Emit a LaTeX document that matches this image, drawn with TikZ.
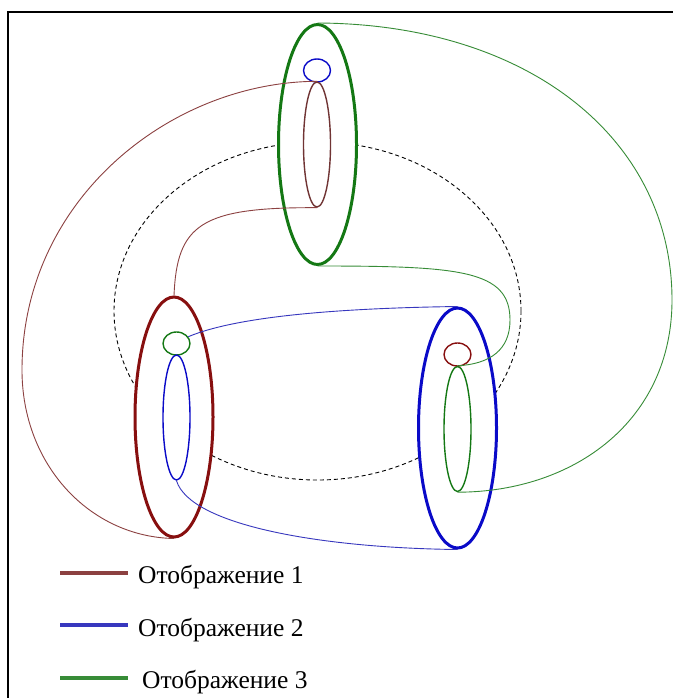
\documentclass[tikz,border=0pt]{standalone}
\usepackage{fontspec}
\setmainfont{Liberation Serif}
\usetikzlibrary{shapes.geometric}
\definecolor{ringred}{RGB}{135,15,15}
\definecolor{ringblue}{RGB}{10,10,200}
\definecolor{ringgreen}{RGB}{20,120,20}
\definecolor{thinred}{RGB}{140,65,65}
\definecolor{thinblue}{RGB}{55,55,190}
\definecolor{thingreen}{RGB}{55,140,55}
\tikzset{
  bigring/.style={ellipse, draw, fill=white, inner sep=0pt, minimum width=78pt, minimum height=240pt, line width=3pt},
  innerring/.style={ellipse, draw, inner sep=0pt, minimum width=27pt, minimum height=125pt, line width=1.4pt},
  smallring/.style={ellipse, draw, inner sep=0pt, minimum width=27pt, minimum height=23pt, line width=1.4pt},
  link/.style={line width=0.9pt},
  legline/.style={line width=3.2pt},
  legtext/.style={anchor=base west, inner sep=0pt, font=\fontsize{25.5}{30}\selectfont}
}
\begin{document}
\begin{tikzpicture}[x=1pt,y=-1pt]
\useasboundingbox (0,0) rectangle (673,698);
\fill[white] (0,0) rectangle (673,698);
% frame
\draw[line width=1.5pt] (8,698) -- (8,12) -- (673,12);
% dashed orbit
\node[ellipse, draw, dashed, dash pattern=on 4pt off 3pt, line width=0.9pt, inner sep=0pt, minimum width=407pt, minimum height=338pt] (orbit) at (317.5,311) {};
% big rings
\node[bigring, draw=ringgreen] (G) at (317.5,144.5) {};
\node[bigring, draw=ringred] (R) at (174,417) {};
\node[bigring, draw=ringblue] (B) at (457.5,428) {};
% inner shapes
\node[smallring, draw=ringblue] (Gc) at (317,70.5) {};
\node[innerring, draw=thinred!80!black] (Ge) at (317,144.5) {};
\node[smallring, draw=ringgreen] (Rc) at (176.5,343.5) {};
\node[innerring, draw=ringblue] (Re) at (176.5,417.5) {};
\node[smallring, draw=ringred] (Bc) at (457.5,354.5) {};
\node[innerring, draw=ringgreen] (Be) at (457.5,429) {};
% connectors
\draw[link, thingreen] (G.north) .. controls (530,24) and (672,140) .. (672,300)
  .. controls (672,420) and (575,492) .. (Be.south);
\draw[link, thingreen] (G.south) .. controls (460,266) and (510,270) .. (510,320)
  .. controls (510,350) and (490,364) .. (Be.north);
\draw[link, thinred] (Ge.north) .. controls (170,82) and (22,200) .. (22,370)
  .. controls (22,465) and (90,537) .. (R.south);
\draw[link, thinred] (Ge.south) .. controls (200,207) and (177,225) .. (R.north);
\draw[link, thinblue] (Rc.30) .. controls (240,315) and (350,308) .. (B.north);
\draw[link, thinblue] (Re.south) .. controls (190,525) and (320,548) .. (B.south);
% legend
\coordinate (l1a) at (60,573); \coordinate (l1b) at (128,573);
\coordinate (l2a) at (60,625); \coordinate (l2b) at (128,625);
\coordinate (l3a) at (60,678); \coordinate (l3b) at (128,678);
\draw[legline, thinred] (l1a) -- (l1b);
\draw[legline, thinblue] (l2a) -- (l2b);
\draw[legline, thingreen] (l3a) -- (l3b);
\node[legtext] (t1) at (138,583.5) {Отображение 1};
\node[legtext] (t2) at (138,636.5) {Отображение 2};
\node[legtext] (t3) at (142,688.5) {Отображение 3};
\end{tikzpicture}
\end{document}
